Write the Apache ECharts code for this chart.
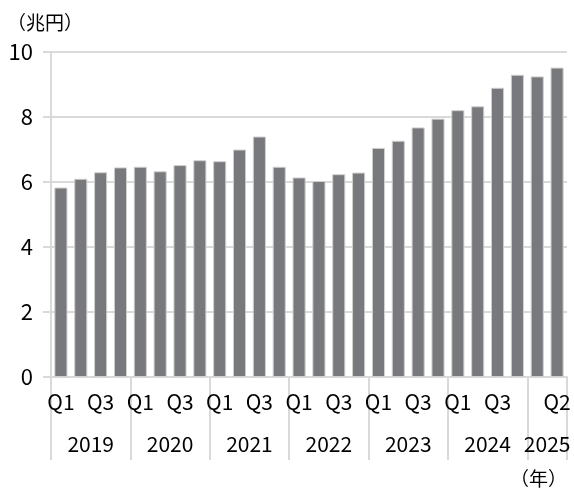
<!DOCTYPE html>
<html>
<head>
<meta charset="utf-8">
<title>兆円 四半期推移</title>
<script src="https://cdn.jsdelivr.net/npm/echarts@6.0.0/dist/echarts.min.js"></script>
<style>
  html, body { margin: 0; padding: 0; background: #fff; }
  #chart { width: 574px; height: 492px; }
</style>
</head>
<body>
<div id="chart"></div>
<script>
// 四半期ラベル（2019Q1〜2025Q2）
var quarters = ['Q1', '', 'Q3', '', 'Q1', '', 'Q3', '', 'Q1', '', 'Q3', '',
                'Q1', '', 'Q3', '', 'Q1', '', 'Q3', '', 'Q1', '', 'Q3', '',
                '', 'Q2'];
var values = [5.83, 6.10, 6.30, 6.45, 6.47, 6.33, 6.52, 6.67, 6.64, 7.00, 7.40, 6.47,
              6.14, 6.03, 6.24, 6.29, 7.05, 7.27, 7.68, 7.95, 8.21, 8.33, 8.90, 9.30,
              9.25, 9.52];
var years = ['2019', '2020', '2021', '2022', '2023', '2024', '2025'];
var yearCenters = [2, 6, 10, 14, 18, 22, 25];
var yearBounds = [0, 4, 8, 12, 16, 20, 24, 26];

var font = '"Noto Sans CJK JP", sans-serif';
var textColor = '#000';
var lineColor = '#d9d9d9';

var chart = echarts.init(document.getElementById('chart'));

var option = {
  animation: false,
  title: [
    { text: '（兆円）', left: 2, top: 8,
      textStyle: { fontFamily: font, fontSize: 19, fontWeight: 'normal', color: textColor } },
    { text: '（年）', right: 2, top: 464,
      textStyle: { fontFamily: font, fontSize: 19, fontWeight: 'normal', color: textColor } }
  ],
  grid: { left: 51, right: 7, top: 52, bottom: 115 },
  xAxis: [
    {
      type: 'category',
      data: quarters,
      position: 'bottom',
      boundaryGap: true,
      axisLine: { lineStyle: { color: lineColor, width: 2 } },
      axisTick: { interval: 0, length: 41, lineStyle: { color: lineColor, width: 2 } },
      axisLabel: { interval: 0, margin: 15, fontFamily: font, fontSize: 21, color: textColor }
    },
    {
      type: 'value',
      min: 0,
      max: 26,
      position: 'bottom',
      axisLine: { show: false },
      splitLine: { show: false },
      axisTick: { show: true, customValues: yearBounds, length: 83,
                  lineStyle: { color: lineColor, width: 2 } },
      axisLabel: {
        customValues: yearCenters,
        margin: 57,
        fontFamily: font, fontSize: 21, color: textColor,
        formatter: function (v) {
          var i = yearCenters.indexOf(v);
          return i >= 0 ? years[i] : '';
        }
      }
    }
  ],
  yAxis: {
    type: 'value',
    min: 0,
    max: 10,
    interval: 2,
    axisLine: { show: true, lineStyle: { color: lineColor, width: 2 } },
    axisTick: { show: true, length: 8, lineStyle: { color: lineColor, width: 2 } },
    splitLine: { lineStyle: { color: lineColor, width: 2 } },
    axisLabel: { margin: 18, fontFamily: font, fontSize: 22, color: textColor }
  },
  series: [{
    type: 'bar',
    xAxisIndex: 0,
    data: values,
    barCategoryGap: '34%',
    itemStyle: { color: '#78797d', borderColor: '#d0d0d0', borderWidth: 1 }
  }]
};

chart.setOption(option);
</script>
</body>
</html>
